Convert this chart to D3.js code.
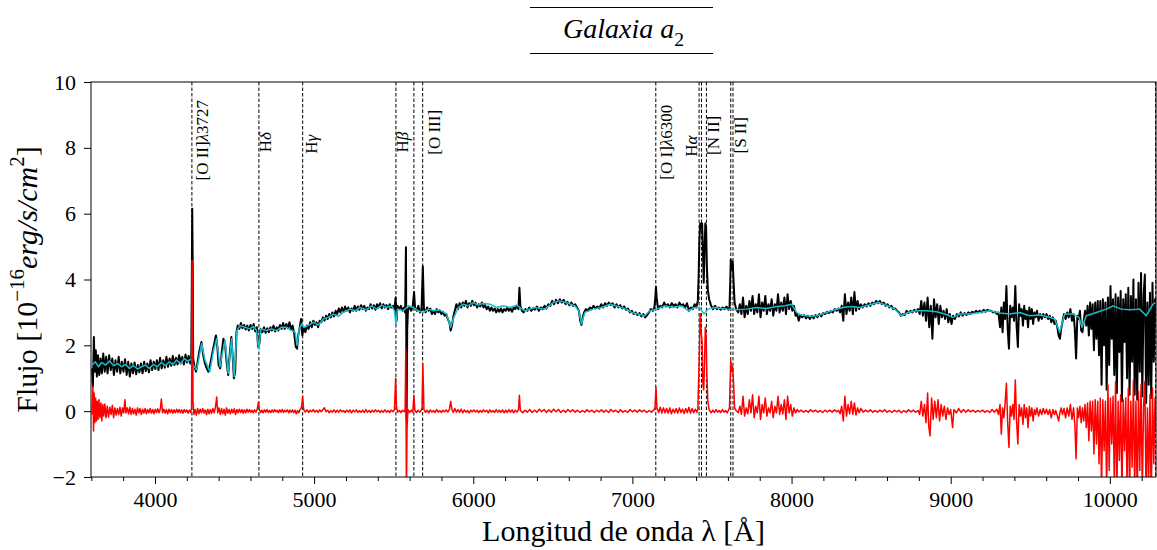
<!DOCTYPE html>
<html>
<head>
<meta charset="utf-8">
<script src="https://cdn.jsdelivr.net/npm/d3@7"></script>
<style>
  body { margin: 0; background: #fff; }
  svg { display: block; }
  text { font-family: "Liberation Serif", "DejaVu Serif", serif; fill: #000; }
</style>
</head>
<body>
<svg id="chart" width="1157" height="550"></svg>
<script>
// axis ticks
const xTicks = [4000, 5000, 6000, 7000, 8000, 9000, 10000];
const xMinorTicks = [3600, 3800, 4200, 4400, 4600, 4800, 5200, 5400, 5600, 5800, 6200, 6400, 6600, 6800,
  7200, 7400, 7600, 7800, 8200, 8400, 8600, 8800, 9200, 9400, 9600, 9800, 10200];
const yTicks = [-2, 0, 2, 4, 6, 8, 10];

// emission lines (observed wavelength, A)
const lineWl = [4232, 4653, 4928, 5514, 5627, 5682, 7147, 7419, 7434, 7465, 7618, 7632, 10288];

// labels: text, wavelength of label centre, flux of label centre
const labelText = ["[O II]λ3727", "Hδ", "Hγ", "Hβ", "[O III]", "[O I]λ6300", "Hα", "[N II]", "[S II]"];
const labelWl = [4295, 4691, 4980, 5551, 5753, 7210, 7367, 7505, 7675];
const labelFlux = [8.23, 8.17, 8.11, 8.17, 8.47, 8.17, 8.05, 8.38, 8.38];

// observed spectrum [wavelength, flux]
const observed = [
[3605,1.30],[3610,0.75],[3616,2.25],[3622,1.20],[3628,1.85],[3635,1.05],[3642,1.70],[3650,1.10],[3658,1.60],[3666,1.15],
[3675,1.75],[3684,1.20],[3693,1.65],[3702,1.15],[3712,1.70],[3722,1.25],[3732,1.60],[3742,1.10],[3752,1.55],[3762,1.20],
[3772,1.65],[3782,1.15],[3792,1.50],[3802,1.20],[3812,1.58],[3822,1.10],[3832,1.50],[3842,1.05],[3852,1.45],[3862,1.15],
[3872,1.48],[3882,1.12],[3892,1.40],[3902,1.18],[3912,1.45],[3922,1.15],[3932,1.50],[3942,1.22],[3952,1.45],[3962,1.18],
[3972,1.55],[3982,1.25],[3992,1.50],[4002,1.28],[4012,1.55],[4022,1.25],[4032,1.62],[4042,1.30],[4052,1.55],[4062,1.32],
[4072,1.65],[4082,1.35],[4092,1.60],[4102,1.38],[4112,1.68],[4122,1.40],[4132,1.62],[4142,1.42],[4152,1.70],[4162,1.45],
[4172,1.65],[4182,1.42],[4192,1.72],[4202,1.48],[4212,1.68],[4222,1.45],[4228,1.60],[4231,3.50],[4234,6.15],[4237,4.50],
[4240,1.60],[4248,1.35],[4258,1.20],[4268,1.50],[4280,1.85],[4292,2.10],[4303,1.70],[4314,1.45],[4325,1.30],[4336,1.20],
[4348,1.45],[4360,1.75],[4372,2.05],[4383,2.30],[4392,1.95],[4400,1.40],[4410,1.30],[4420,1.80],[4430,2.20],[4440,2.05],
[4450,1.50],[4460,1.10],[4470,1.75],[4480,2.25],[4488,1.70],[4496,1.00],[4504,1.20],[4512,2.40],[4520,2.60],[4530,2.50],
[4540,2.68],[4550,2.52],[4560,2.62],[4570,2.48],[4580,2.60],[4590,2.45],[4600,2.62],[4610,2.50],[4620,2.65],[4630,2.42],
[4640,2.55],[4648,1.95],[4656,2.05],[4664,2.50],[4675,2.40],[4685,2.55],[4695,2.38],[4705,2.52],[4715,2.40],[4725,2.55],
[4735,2.45],[4745,2.60],[4755,2.42],[4765,2.55],[4775,2.45],[4785,2.62],[4795,2.50],[4805,2.68],[4815,2.50],[4825,2.65],
[4835,2.52],[4845,2.70],[4855,2.48],[4865,2.60],[4875,2.35],[4885,1.95],[4893,1.90],[4900,2.30],[4910,2.55],[4918,2.80],
[4926,2.30],[4934,2.55],[4945,2.40],[4955,2.60],[4965,2.50],[4975,2.70],[4985,2.55],[4995,2.75],[5005,2.62],[5015,2.70],
[5025,2.55],[5035,2.75],[5045,2.70],[5055,2.85],[5065,2.75],[5075,2.90],[5085,2.80],[5095,2.95],[5105,2.85],[5115,3.00],
[5125,2.88],[5135,3.05],[5145,2.95],[5155,3.12],[5165,3.00],[5175,3.15],[5185,3.02],[5195,3.18],[5205,3.05],[5215,3.15],
[5225,3.00],[5235,3.12],[5245,3.05],[5255,3.20],[5265,3.05],[5275,3.18],[5285,3.08],[5295,3.22],[5305,3.10],[5315,3.20],
[5325,3.05],[5335,3.15],[5345,3.10],[5355,3.25],[5365,3.12],[5375,3.22],[5385,3.08],[5395,3.25],[5405,3.15],[5415,3.28],
[5425,3.12],[5435,3.25],[5445,3.15],[5455,3.22],[5465,3.10],[5475,3.25],[5485,3.15],[5495,3.20],[5505,3.10],[5512,3.45],
[5518,2.75],[5524,3.20],[5535,3.10],[5545,3.20],[5555,3.05],[5565,3.15],[5572,3.00],[5577,4.98],[5581,-0.28],[5585,2.50],
[5590,3.10],[5600,3.15],[5610,3.05],[5620,3.20],[5628,3.62],[5634,3.15],[5645,3.05],[5655,3.20],[5665,3.00],[5675,3.10],
[5683,4.40],[5690,3.10],[5700,3.00],[5710,3.15],[5720,3.05],[5730,3.12],[5740,2.95],[5750,3.05],[5760,2.95],[5770,3.10],
[5780,3.00],[5790,3.05],[5800,2.95],[5810,3.02],[5820,2.90],[5830,2.95],[5840,2.80],[5850,2.70],[5858,2.45],[5866,2.60],
[5874,2.85],[5884,3.05],[5894,3.25],[5904,3.10],[5914,3.28],[5924,3.15],[5934,3.30],[5944,3.20],[5954,3.35],[5964,3.15],
[5974,3.28],[5984,3.20],[5994,3.35],[6004,3.22],[6014,3.30],[6024,3.15],[6034,3.25],[6044,3.18],[6054,3.30],[6064,3.15],
[6074,3.22],[6084,3.10],[6094,3.18],[6104,3.05],[6114,3.15],[6124,3.05],[6134,3.12],[6144,3.00],[6154,3.10],[6164,3.02],
[6174,3.12],[6184,3.00],[6194,3.10],[6204,3.05],[6214,3.15],[6224,3.05],[6234,3.12],[6244,3.02],[6254,3.15],[6264,3.10],
[6274,3.20],[6284,3.10],[6290,3.75],[6296,3.20],[6306,3.05],[6316,3.00],[6328,3.10],[6340,3.05],[6352,3.15],[6364,3.05],
[6376,3.12],[6388,3.08],[6400,3.18],[6412,3.05],[6424,3.15],[6436,3.10],[6448,3.20],[6460,3.12],[6472,3.25],[6484,3.20],
[6496,3.35],[6508,3.25],[6520,3.38],[6532,3.28],[6544,3.40],[6556,3.30],[6568,3.38],[6580,3.25],[6592,3.32],[6604,3.22],
[6616,3.30],[6628,3.20],[6640,3.25],[6652,3.15],[6664,3.05],[6672,2.75],[6680,2.62],[6688,2.85],[6696,3.00],[6708,3.10],
[6720,3.05],[6732,3.15],[6744,3.10],[6756,3.20],[6768,3.12],[6780,3.18],[6792,3.12],[6804,3.25],[6816,3.15],[6828,3.28],
[6840,3.20],[6852,3.30],[6864,3.22],[6876,3.28],[6888,3.15],[6900,3.25],[6912,3.15],[6924,3.22],[6936,3.12],[6948,3.18],
[6960,3.08],[6972,3.12],[6984,3.00],[6996,3.05],[7008,2.95],[7020,3.00],[7032,2.92],[7044,2.98],[7056,2.88],[7068,2.95],
[7080,2.85],[7092,2.92],[7104,3.00],[7116,3.10],[7128,3.05],[7138,3.15],[7144,3.45],[7148,3.78],[7153,3.40],[7162,3.10],
[7175,3.20],[7187,3.15],[7199,3.30],[7211,3.18],[7223,3.25],[7235,3.15],[7247,3.28],[7259,3.20],[7271,3.25],[7283,3.15],
[7295,3.30],[7307,3.20],[7319,3.25],[7331,3.15],[7343,3.28],[7355,3.05],[7367,3.15],[7379,3.10],[7391,3.25],[7401,3.15],
[7411,3.35],[7416,4.10],[7421,5.20],[7426,5.70],[7432,5.55],[7438,5.70],[7443,4.90],[7448,3.90],[7453,4.80],[7458,5.70],
[7463,5.60],[7468,4.40],[7474,3.70],[7482,3.40],[7495,3.20],[7507,3.10],[7519,3.20],[7531,3.10],[7543,3.15],[7555,3.08],
[7567,3.15],[7579,3.10],[7591,3.18],[7603,3.08],[7610,3.15],[7614,3.80],[7618,4.60],[7624,4.30],[7630,4.55],[7636,3.90],
[7642,3.30],[7652,3.10],[7665,3.00],[7675,3.25],[7685,2.95],[7695,3.45],[7705,2.85],[7715,3.20],[7725,2.95],[7735,3.35],
[7745,3.05],[7755,3.50],[7765,2.95],[7775,3.25],[7785,3.00],[7795,3.55],[7805,2.85],[7815,3.30],[7825,3.05],[7835,3.50],
[7845,2.95],[7855,3.25],[7865,3.05],[7875,3.40],[7885,2.90],[7895,3.25],[7905,3.05],[7915,3.55],[7925,3.00],[7935,3.30],
[7945,3.05],[7955,3.45],[7965,2.95],[7975,3.55],[7985,3.10],[7995,3.35],[8005,3.05],[8015,3.20],[8025,2.90],[8035,2.95],
[8045,2.75],[8055,2.92],[8067,2.85],[8079,2.92],[8091,2.82],[8103,2.90],[8115,2.80],[8127,2.90],[8139,2.82],[8151,2.92],
[8163,2.85],[8175,2.95],[8187,2.88],[8199,2.98],[8211,2.95],[8223,3.02],[8235,2.98],[8247,3.05],[8259,3.00],[8271,3.10],
[8283,3.05],[8295,3.12],[8305,3.00],[8315,3.20],[8325,2.75],[8335,3.55],[8345,2.95],[8355,3.30],[8365,3.05],[8375,3.45],
[8385,2.95],[8395,3.62],[8405,3.05],[8415,3.35],[8425,3.10],[8435,3.25],[8447,3.15],[8459,3.25],[8471,3.18],[8483,3.28],
[8495,3.20],[8507,3.30],[8519,3.25],[8531,3.35],[8543,3.28],[8555,3.35],[8567,3.25],[8579,3.30],[8591,3.20],[8603,3.25],
[8615,3.15],[8627,3.20],[8639,3.10],[8651,3.12],[8663,3.05],[8675,3.00],[8687,2.90],[8699,2.95],[8711,2.92],[8723,3.05],
[8735,2.98],[8747,3.05],[8759,3.00],[8771,3.08],[8783,3.02],[8795,3.10],[8805,2.95],[8815,3.35],[8825,2.90],[8835,3.30],
[8845,2.75],[8855,3.45],[8865,2.55],[8875,3.20],[8885,2.20],[8895,3.40],[8905,2.85],[8915,3.25],[8925,2.65],[8935,3.20],
[8945,2.85],[8955,3.05],[8965,2.80],[8975,3.10],[8985,2.70],[8995,2.95],[9005,2.65],[9015,2.90],[9027,2.80],[9039,2.95],
[9051,2.88],[9063,3.00],[9075,2.90],[9087,2.98],[9099,2.92],[9111,3.00],[9123,2.95],[9135,3.02],[9147,2.98],[9159,3.05],
[9171,3.00],[9183,3.05],[9195,3.00],[9207,3.08],[9219,3.02],[9231,3.08],[9243,3.05],[9255,3.05],[9267,3.00],[9279,3.02],
[9291,2.95],[9300,3.00],[9310,2.55],[9318,3.15],[9326,2.40],[9334,3.30],[9342,2.80],[9350,3.80],[9358,2.50],[9366,1.90],
[9374,3.20],[9382,2.85],[9390,3.15],[9398,2.75],[9406,3.80],[9414,2.60],[9422,1.95],[9430,3.25],[9438,2.90],[9446,3.10],
[9454,2.60],[9462,3.20],[9470,2.80],[9478,3.05],[9486,2.55],[9494,3.15],[9502,2.80],[9510,3.10],[9518,2.65],[9526,3.00],
[9534,2.85],[9542,3.05],[9552,2.75],[9562,2.95],[9572,2.80],[9582,2.95],[9592,2.85],[9602,2.95],[9612,2.80],[9622,2.90],
[9632,2.70],[9642,2.85],[9652,2.65],[9660,2.75],[9670,2.55],[9678,2.30],[9686,2.20],[9694,2.50],[9702,2.70],[9712,2.95],
[9722,2.80],[9732,3.00],[9742,2.85],[9752,3.10],[9762,2.75],[9772,2.95],[9780,2.50],[9788,1.60],[9796,2.90],[9804,2.80],
[9812,3.05],[9820,2.45],[9828,2.40],[9836,2.75],[9844,3.05],[9852,2.60],[9860,3.20],[9868,2.30],[9876,3.30],[9884,2.50],
[9892,3.25],[9900,1.85],[9908,3.30],[9916,2.20],[9924,3.35],[9932,1.70],[9940,3.35],[9948,0.80],[9956,3.40],[9964,2.00],
[9972,3.30],[9980,0.65],[9988,3.45],[9996,1.40],[10004,3.80],[10012,2.20],[10020,3.40],[10028,1.10],[10036,3.55],[10044,0.55],
[10052,3.45],[10060,1.80],[10068,3.65],[10076,0.30],[10084,3.40],[10092,2.10],[10100,3.55],[10108,1.00],[10116,3.75],[10124,0.50],
[10132,3.50],[10140,1.50],[10148,4.00],[10156,0.50],[10164,3.40],[10172,0.35],[10180,3.90],[10188,1.20],[10196,4.20],[10204,0.45],
[10212,3.50],[10220,4.15],[10228,0.25],[10236,3.30],[10244,0.80],[10252,3.60],[10260,0.40],[10268,3.90],[10276,1.50],[10284,3.40],
[10290,3.30]
];

// fitted model [wavelength, flux]
const model = [
[3605,1.40],[3625,1.50],[3645,1.35],[3665,1.48],[3690,1.40],[3715,1.52],[3740,1.38],[3765,1.45],[3790,1.35],[3815,1.42],
[3840,1.30],[3865,1.38],[3890,1.28],[3915,1.35],[3940,1.40],[3965,1.30],[3990,1.42],[4015,1.35],[4040,1.48],[4065,1.38],
[4090,1.50],[4110,1.42],[4135,1.55],[4160,1.45],[4185,1.60],[4205,1.52],[4225,1.58],[4241,1.40],[4262,1.25],[4293,2.05],
[4314,1.55],[4345,1.20],[4366,1.80],[4387,2.20],[4408,1.35],[4423,1.75],[4440,2.15],[4460,1.15],[4481,2.20],[4498,1.05],
[4515,2.45],[4534,2.60],[4565,2.55],[4597,2.50],[4617,2.58],[4638,2.45],[4651,1.90],[4666,2.50],[4701,2.45],[4733,2.50],
[4764,2.45],[4795,2.55],[4827,2.55],[4858,2.45],[4880,2.40],[4893,2.00],[4905,2.45],[4920,2.65],[4935,2.55],[4963,2.60],
[4995,2.70],[5026,2.62],[5058,2.80],[5089,2.85],[5120,2.95],[5152,2.88],[5183,3.00],[5225,3.10],[5257,3.05],[5288,3.15],
[5330,3.08],[5361,3.20],[5393,3.10],[5424,3.22],[5455,3.15],[5487,3.20],[5505,3.05],[5514,2.65],[5524,3.10],[5560,3.05],
[5592,3.20],[5623,3.15],[5654,3.05],[5686,3.00],[5717,3.10],[5749,3.05],[5790,3.08],[5832,2.95],[5858,2.55],[5878,2.85],
[5906,3.15],[5937,3.25],[5968,3.20],[6000,3.30],[6031,3.22],[6063,3.28],[6105,3.25],[6146,3.15],[6188,3.20],[6230,3.15],
[6272,3.22],[6324,3.05],[6387,3.15],[6449,3.10],[6502,3.30],[6544,3.35],[6596,3.28],[6638,3.20],[6663,3.05],[6680,2.65],
[6701,3.00],[6753,3.10],[6805,3.15],[6858,3.25],[6910,3.18],[6963,3.10],[6994,3.00],[7036,2.95],[7078,2.90],[7109,3.05],
[7151,3.10],[7203,3.20],[7256,3.15],[7308,3.20],[7350,3.05],[7392,3.15],[7423,3.15],[7450,2.95],[7475,3.10],[7517,3.15],
[7559,3.12],[7601,3.10],[7654,3.08],[7717,3.10],[7780,3.15],[7842,3.12],[7905,3.18],[7958,3.20],[8000,3.25],[8031,3.00],
[8062,2.92],[8115,2.88],[8167,2.90],[8219,3.00],[8272,3.08],[8324,3.15],[8376,3.18],[8429,3.15],[8481,3.22],[8544,3.30],
[8596,3.22],[8649,3.10],[8690,2.90],[8732,3.00],[8785,3.05],[8847,3.05],[8910,3.02],[8963,2.95],[9015,2.85],[9057,2.95],
[9119,2.95],[9182,3.00],[9245,3.05],[9308,2.98],[9371,2.95],[9434,3.00],[9496,2.90],[9559,2.92],[9622,2.85],[9653,2.80],
[9685,2.40],[9716,2.95],[9769,2.95],[9806,2.85],[9825,2.55],[9852,2.90],[9915,3.00],[9978,3.10],[10020,3.20],[10072,3.10],
[10125,3.08],[10187,3.10],[10229,2.90],[10271,3.25],[10290,3.30]
];

// residual (observed - model) [wavelength, flux]
const residual = [
[3605,-0.10],[3610,0.75],[3614,-0.60],[3618,0.55],[3622,-0.35],[3627,0.40],[3632,-0.30],[3637,0.30],[3642,-0.25],[3648,0.35],
[3654,-0.20],[3660,0.25],[3666,-0.30],[3672,0.20],[3678,-0.15],[3685,0.22],[3692,-0.20],[3700,0.15],[3708,-0.18],[3716,0.12],
[3724,-0.10],[3732,0.18],[3740,-0.20],[3748,0.10],[3756,-0.12],[3764,0.08],[3772,-0.10],[3780,0.12],[3788,-0.15],[3796,0.10],
[3804,-0.05],[3811,0.35],[3818,-0.05],[3826,0.10],[3834,-0.08],[3842,0.12],[3850,-0.10],[3858,0.08],[3866,-0.08],[3874,0.06],
[3882,-0.12],[3890,0.10],[3898,-0.05],[3906,0.08],[3914,-0.10],[3922,0.06],[3930,-0.06],[3938,0.08],[3946,-0.08],[3954,0.05],
[3962,-0.05],[3970,0.08],[3978,-0.06],[3986,0.05],[3994,-0.08],[4002,0.06],[4010,-0.04],[4018,0.07],[4026,-0.05],[4034,0.08],
[4040,0.37],[4048,-0.05],[4056,0.06],[4064,-0.06],[4072,0.05],[4080,-0.08],[4088,0.06],[4096,-0.04],[4104,0.05],[4112,-0.06],
[4120,0.04],[4128,-0.05],[4136,0.06],[4144,-0.04],[4152,0.05],[4160,-0.05],[4168,0.04],[4176,-0.06],[4184,0.05],[4192,-0.03],
[4200,0.04],[4208,-0.06],[4216,0.03],[4224,-0.04],[4230,0.10],[4233,4.58],[4236,3.50],[4239,0.30],[4244,-0.10],[4252,0.05],
[4260,-0.12],[4268,0.08],[4276,-0.08],[4284,0.06],[4292,-0.05],[4300,0.08],[4308,-0.06],[4316,0.04],[4324,-0.10],[4332,0.06],
[4340,-0.08],[4348,0.05],[4356,-0.06],[4364,0.08],[4372,-0.05],[4380,0.12],[4388,0.43],[4394,-0.05],[4402,0.10],[4410,-0.10],
[4418,0.08],[4426,-0.08],[4434,0.06],[4442,-0.12],[4450,0.10],[4458,-0.06],[4466,0.05],[4474,-0.08],[4482,0.06],[4490,-0.05],
[4498,0.07],[4506,-0.10],[4514,0.05],[4522,-0.05],[4530,0.06],[4538,-0.04],[4546,0.05],[4554,-0.06],[4562,0.04],[4570,-0.05],
[4578,0.06],[4586,-0.03],[4594,0.05],[4602,-0.04],[4610,0.03],[4618,-0.05],[4626,0.04],[4634,-0.03],[4642,0.05],[4650,0.27],
[4656,0.05],[4664,-0.04],[4672,0.03],[4680,-0.05],[4688,0.04],[4696,-0.03],[4704,0.05],[4712,-0.04],[4720,0.02],[4728,-0.04],
[4736,0.04],[4744,-0.03],[4752,0.05],[4760,-0.02],[4768,0.03],[4776,-0.05],[4784,0.04],[4792,-0.03],[4800,0.05],[4808,-0.04],
[4816,0.03],[4824,-0.02],[4832,0.04],[4840,-0.05],[4848,0.03],[4856,-0.03],[4864,0.04],[4872,-0.05],[4880,0.03],[4888,-0.08],
[4896,0.02],[4904,-0.05],[4912,0.05],[4920,0.10],[4928,0.45],[4934,0.05],[4945,-0.03],[4955,0.04],[4965,-0.04],[4975,0.03],
[4985,-0.02],[4995,0.05],[5005,-0.03],[5015,0.03],[5025,-0.04],[5035,0.04],[5045,-0.02],[5055,0.05],[5065,0.10],[5075,-0.02],
[5085,0.03],[5095,-0.05],[5105,0.02],[5115,-0.03],[5125,0.04],[5135,-0.04],[5145,0.03],[5155,-0.03],[5165,0.04],[5175,-0.02],
[5185,0.02],[5195,-0.04],[5205,0.03],[5215,-0.03],[5225,0.04],[5235,-0.05],[5245,0.03],[5255,-0.02],[5265,0.04],[5275,-0.04],
[5285,0.02],[5295,-0.03],[5305,0.03],[5315,-0.04],[5325,0.05],[5335,-0.03],[5345,0.02],[5355,-0.04],[5365,0.03],[5375,-0.03],
[5385,0.04],[5395,-0.02],[5405,0.03],[5415,-0.04],[5425,0.02],[5435,-0.03],[5445,0.04],[5455,-0.03],[5465,0.02],[5475,-0.04],
[5485,0.03],[5495,-0.02],[5505,0.05],[5512,1.00],[5518,0.10],[5526,-0.03],[5536,0.02],[5546,-0.04],[5556,0.03],[5566,-0.02],
[5572,0.05],[5576,1.90],[5580,-2.60],[5584,-0.50],[5590,0.05],[5600,-0.04],[5610,0.03],[5620,-0.03],[5627,0.48],[5633,0.02],
[5643,-0.04],[5653,0.03],[5663,-0.03],[5673,0.02],[5678,0.10],[5683,1.44],[5690,0.05],[5700,-0.04],[5710,0.03],[5720,-0.05],
[5730,0.04],[5740,-0.03],[5750,0.02],[5760,-0.04],[5770,0.05],[5780,-0.03],[5790,0.02],[5800,-0.04],[5810,0.03],[5820,-0.02],
[5830,0.04],[5840,-0.03],[5850,0.05],[5858,0.30],[5866,0.05],[5874,-0.04],[5884,0.08],[5894,-0.03],[5904,0.05],[5914,-0.04],
[5924,0.06],[5934,-0.05],[5944,0.04],[5954,-0.03],[5964,0.02],[5974,-0.05],[5984,0.03],[5994,-0.02],[6004,0.04],[6014,-0.03],
[6024,0.03],[6034,-0.04],[6044,0.02],[6054,-0.03],[6064,0.04],[6074,-0.02],[6084,0.03],[6094,-0.05],[6104,0.04],[6114,-0.03],
[6124,0.02],[6134,-0.04],[6144,0.05],[6154,-0.03],[6164,0.03],[6174,-0.04],[6184,0.04],[6194,-0.05],[6204,0.03],[6214,-0.04],
[6224,0.05],[6234,-0.03],[6244,0.04],[6254,-0.05],[6264,0.03],[6274,-0.03],[6284,0.05],[6290,0.48],[6296,0.02],[6310,-0.05],
[6325,0.03],[6340,-0.03],[6355,0.05],[6370,-0.04],[6385,0.03],[6400,-0.03],[6415,0.06],[6430,-0.02],[6445,0.05],[6460,-0.04],
[6475,0.04],[6490,-0.03],[6505,0.06],[6520,-0.02],[6535,0.05],[6550,-0.04],[6565,0.03],[6580,-0.03],[6595,0.05],[6610,-0.02],
[6625,0.04],[6640,-0.03],[6655,0.03],[6670,-0.04],[6685,0.02],[6700,-0.03],[6715,0.04],[6730,-0.02],[6745,0.03],[6760,-0.04],
[6775,0.03],[6790,-0.02],[6805,0.04],[6820,-0.03],[6835,0.03],[6850,-0.04],[6865,0.05],[6880,-0.02],[6895,0.03],[6910,-0.04],
[6925,0.04],[6940,-0.03],[6955,0.02],[6970,-0.04],[6985,0.05],[7000,-0.02],[7015,0.03],[7030,-0.03],[7045,0.04],[7060,-0.02],
[7075,0.03],[7090,-0.04],[7105,0.02],[7120,-0.03],[7135,0.04],[7142,0.10],[7148,0.73],[7154,0.10],[7165,-0.04],[7175,0.12],
[7185,-0.06],[7195,0.10],[7205,-0.05],[7215,0.08],[7225,-0.06],[7235,0.10],[7245,-0.08],[7255,0.06],[7265,-0.05],[7275,0.08],
[7285,-0.06],[7295,0.10],[7305,-0.04],[7315,0.06],[7325,-0.07],[7335,0.08],[7345,-0.05],[7355,0.12],[7365,-0.06],[7375,0.08],
[7385,-0.05],[7395,0.06],[7405,-0.03],[7411,0.05],[7416,0.95],[7421,1.80],[7426,2.96],[7432,2.40],[7438,2.10],[7443,0.80],
[7448,0.65],[7453,1.40],[7458,2.55],[7463,2.30],[7468,1.10],[7474,0.30],[7482,0.05],[7495,-0.05],[7505,0.03],[7515,-0.04],
[7525,0.05],[7535,-0.03],[7545,0.02],[7555,-0.04],[7565,0.05],[7575,-0.03],[7585,0.02],[7595,-0.05],[7605,0.04],[7610,0.10],
[7614,0.90],[7618,1.54],[7624,1.20],[7630,1.35],[7636,0.80],[7642,0.10],[7652,0.02],[7665,-0.05],[7675,0.15],[7685,-0.10],
[7695,0.45],[7705,-0.15],[7715,0.10],[7725,-0.08],[7735,0.35],[7745,-0.05],[7755,0.50],[7765,-0.20],[7775,0.15],[7785,-0.05],
[7795,0.45],[7805,-0.25],[7815,0.20],[7825,-0.05],[7835,0.40],[7845,-0.15],[7855,0.10],[7865,-0.05],[7875,0.30],[7885,-0.20],
[7895,0.15],[7905,-0.05],[7915,0.45],[7925,-0.10],[7935,0.20],[7945,-0.08],[7955,0.35],[7965,-0.25],[7975,0.45],[7985,-0.05],
[7995,0.20],[8005,-0.15],[8015,0.10],[8025,-0.05],[8035,0.05],[8045,-0.02],[8060,0.03],[8075,-0.03],[8090,0.02],[8105,-0.03],
[8120,0.04],[8135,-0.02],[8150,0.03],[8165,-0.03],[8180,0.02],[8195,-0.04],[8210,0.03],[8225,-0.02],[8240,0.03],[8255,-0.03],
[8270,0.04],[8285,-0.02],[8295,0.03],[8305,-0.08],[8315,0.15],[8325,-0.30],[8335,0.45],[8345,-0.15],[8355,0.20],[8365,-0.08],
[8375,0.30],[8385,-0.10],[8395,0.25],[8405,-0.12],[8415,0.10],[8425,-0.05],[8435,0.08],[8450,-0.03],[8465,0.03],[8480,-0.02],
[8495,0.04],[8510,-0.03],[8525,0.02],[8540,-0.03],[8555,0.03],[8570,-0.02],[8585,0.04],[8600,-0.03],[8615,0.02],[8630,-0.04],
[8645,0.03],[8660,-0.02],[8675,0.03],[8690,-0.05],[8705,0.02],[8720,-0.03],[8735,0.04],[8750,-0.02],[8765,0.03],[8780,-0.03],
[8795,0.02],[8805,-0.10],[8815,0.30],[8825,-0.15],[8835,0.20],[8845,-0.35],[8855,0.55],[8862,-0.45],[8870,-0.75],[8880,0.40],
[8890,-0.25],[8900,0.30],[8910,-0.20],[8920,0.35],[8930,-0.30],[8940,0.20],[8950,-0.15],[8960,0.15],[8970,-0.25],[8980,0.10],
[8990,-0.10],[9000,0.05],[9012,-0.50],[9020,0.05],[9035,-0.05],[9050,0.08],[9065,-0.04],[9080,0.05],[9095,-0.03],[9110,0.04],
[9125,-0.02],[9140,0.03],[9155,-0.03],[9170,0.02],[9185,-0.02],[9200,0.03],[9215,-0.03],[9230,0.02],[9245,-0.04],[9260,0.05],
[9275,-0.03],[9290,0.06],[9300,-0.10],[9310,0.20],[9318,-0.70],[9326,0.10],[9334,-0.20],[9342,0.25],[9350,0.85],[9358,-0.35],
[9366,-1.10],[9374,0.15],[9382,-0.15],[9390,0.20],[9398,-0.25],[9406,0.95],[9414,-0.30],[9422,-1.00],[9430,0.20],[9438,-0.15],
[9446,0.10],[9454,-0.40],[9462,0.20],[9470,-0.20],[9478,0.10],[9486,-0.50],[9494,0.15],[9502,-0.15],[9510,0.10],[9518,-0.30],
[9526,0.05],[9534,-0.10],[9542,0.10],[9552,-0.15],[9562,0.05],[9572,-0.10],[9582,0.08],[9592,-0.08],[9602,0.06],[9612,-0.10],
[9622,0.05],[9632,-0.20],[9642,0.05],[9652,-0.10],[9660,0.02],[9670,-0.15],[9678,-0.30],[9686,-0.05],[9694,0.10],[9702,-0.10],
[9712,0.08],[9722,-0.20],[9732,0.10],[9742,-0.15],[9752,0.20],[9762,-0.25],[9772,0.10],[9780,-0.40],[9788,-1.45],[9796,0.10],
[9804,-0.20],[9812,0.15],[9820,-0.35],[9828,0.10],[9836,-0.30],[9844,0.20],[9852,-0.50],[9860,0.25],[9868,-0.90],[9876,0.30],
[9884,-0.60],[9892,0.30],[9900,-1.30],[9908,0.35],[9916,-1.00],[9924,0.30],[9932,-1.60],[9940,0.40],[9948,-2.40],[9956,0.35],
[9964,-1.20],[9972,0.30],[9980,-2.50],[9988,0.80],[9996,-1.80],[10004,0.40],[10012,-1.00],[10020,0.45],[10028,-2.20],[10036,0.90],
[10044,-2.60],[10052,0.30],[10060,-1.50],[10068,0.50],[10076,-2.50],[10084,0.35],[10092,-1.20],[10100,0.40],[10108,-2.30],[10116,0.70],
[10124,-2.60],[10132,0.30],[10140,-1.70],[10148,0.95],[10156,-2.40],[10164,0.30],[10172,-2.70],[10180,0.60],[10188,-1.80],[10196,0.80],
[10204,-2.50],[10212,0.20],[10220,0.90],[10228,-2.80],[10236,0.10],[10244,-2.20],[10252,0.50],[10260,-2.90],[10268,0.70],[10276,-1.60],
[10284,0.40],[10290,-0.50]
];

const svg = d3.select('#chart');
const width = +svg.attr('width');
const height = +svg.attr('height');
const margin = { top: 82, right: 1, bottom: 73, left: 91 };
const innerWidth = width - margin.left - margin.right;
const innerHeight = height - margin.top - margin.bottom;

const xScale = d3.scaleLinear().domain([3598, 10290]).range([0, innerWidth]);
const yScale = d3.scaleLinear().domain([-2, 10]).range([innerHeight, 0]);

// writes a run of text pieces as separate <text> nodes, centred on 0
// parts: [text, style] with style '' | 'i' (italic) | 'sup' | 'sub'
function richText(parent, parts, size) {
  const grp = parent.append('g');
  let x = 0;
  parts.forEach(([s, st]) => {
    const small = st === 'sup' || st === 'sub';
    const t = grp.append('text')
      .attr('x', x)
      .attr('y', st === 'sup' ? -0.42 * size : st === 'sub' ? 0.28 * size : 0)
      .style('font-size', (small ? size * 0.7 : size) + 'px')
      .style('font-style', st === 'i' ? 'italic' : 'normal')
      .text(s);
    x += t.node().getComputedTextLength();
  });
  grp.selectAll('text').attr('x', function () { return +d3.select(this).attr('x') - x / 2; });
  return grp;
}

const g = svg.append('g').attr('transform', `translate(${margin.left},${margin.top})`);

g.append('clipPath').attr('id', 'plot-clip')
  .append('rect').attr('width', innerWidth).attr('height', innerHeight);

// dashed emission line markers
g.append('g').selectAll('line')
  .data(lineWl)
  .enter().append('line')
    .attr('x1', d => xScale(d)).attr('x2', d => xScale(d))
    .attr('y1', 0).attr('y2', innerHeight)
    .attr('stroke', '#000').attr('stroke-width', 1)
    .attr('stroke-dasharray', '3.5,2');

const line = d3.line().x(d => xScale(d[0])).y(d => yScale(d[1]));

const specG = g.append('g').attr('clip-path', 'url(#plot-clip)');
specG.append('path').datum(observed)
  .attr('d', line).attr('fill', 'none')
  .attr('stroke', '#000').attr('stroke-width', 2).attr('stroke-linejoin', 'round');
specG.append('path').datum(model)
  .attr('d', line).attr('fill', 'none')
  .attr('stroke', '#17becf').attr('stroke-width', 1.5).attr('stroke-linejoin', 'round');
specG.append('path').datum(residual)
  .attr('d', line).attr('fill', 'none')
  .attr('stroke', '#ff0000').attr('stroke-width', 1.5).attr('stroke-linejoin', 'round');

// line labels, rotated, greek letters in italics
labelText.forEach((d, i) => {
  const parts = d.split(/([α-ωλ])/).filter(s => s.length)
    .map(s => [s, /[α-ωλ]/.test(s) ? 'i' : '']);
  const holder = g.append('g')
    .attr('transform', `translate(${xScale(labelWl[i]) + 6},${yScale(labelFlux[i])}) rotate(-90)`);
  richText(holder, parts, 17);
});

// axes
const xAxis = d3.axisBottom(xScale).tickValues(xTicks).tickSize(7).tickPadding(7).tickFormat(d3.format('d'));
const xMinor = d3.axisBottom(xScale).tickValues(xMinorTicks).tickSize(4).tickFormat('');
const yAxis = d3.axisLeft(yScale).tickValues(yTicks).tickSize(7).tickPadding(8);

const xAxisG = g.append('g').attr('transform', `translate(0,${innerHeight})`).call(xAxis);
const xMinorG = g.append('g').attr('transform', `translate(0,${innerHeight})`).call(xMinor);
const yAxisG = g.append('g').call(yAxis);
[xAxisG, xMinorG, yAxisG].forEach(a => {
  a.select('.domain').remove();
  a.selectAll('line').attr('stroke', '#000').attr('stroke-width', 1);
  a.selectAll('text').style('font-size', '22px').style('font-family', '"Liberation Serif", serif').attr('fill', '#000');
});

// frame
g.append('rect')
  .attr('width', innerWidth).attr('height', innerHeight)
  .attr('fill', 'none').attr('stroke', '#000').attr('stroke-width', 1);

// axis labels
svg.append('text')
  .attr('x', margin.left + innerWidth / 2).attr('y', 541)
  .attr('text-anchor', 'middle')
  .style('font-size', '30px')
  .text('Longitud de onda λ [Å]');

const yLabHolder = svg.append('g')
  .attr('transform', `translate(37,${margin.top + innerHeight / 2}) rotate(-90)`);
richText(yLabHolder, [['Flujo [10', ''], ['−16', 'sup'], ['erg/s/cm', 'i'], ['2', 'sup'], [']', '']], 30);

// title with over/under rules
const titleHolder = svg.append('g').attr('transform', `translate(${margin.left + innerWidth / 2},38)`);
richText(titleHolder, [['Galaxia a', 'i'], ['2', 'sub']], 28);

svg.append('line').attr('x1', 530).attr('x2', 713).attr('y1', 7.5).attr('y2', 7.5)
  .attr('stroke', '#000').attr('stroke-width', 1);
svg.append('line').attr('x1', 530).attr('x2', 713).attr('y1', 53.5).attr('y2', 53.5)
  .attr('stroke', '#000').attr('stroke-width', 1);
</script>
</body>
</html>
